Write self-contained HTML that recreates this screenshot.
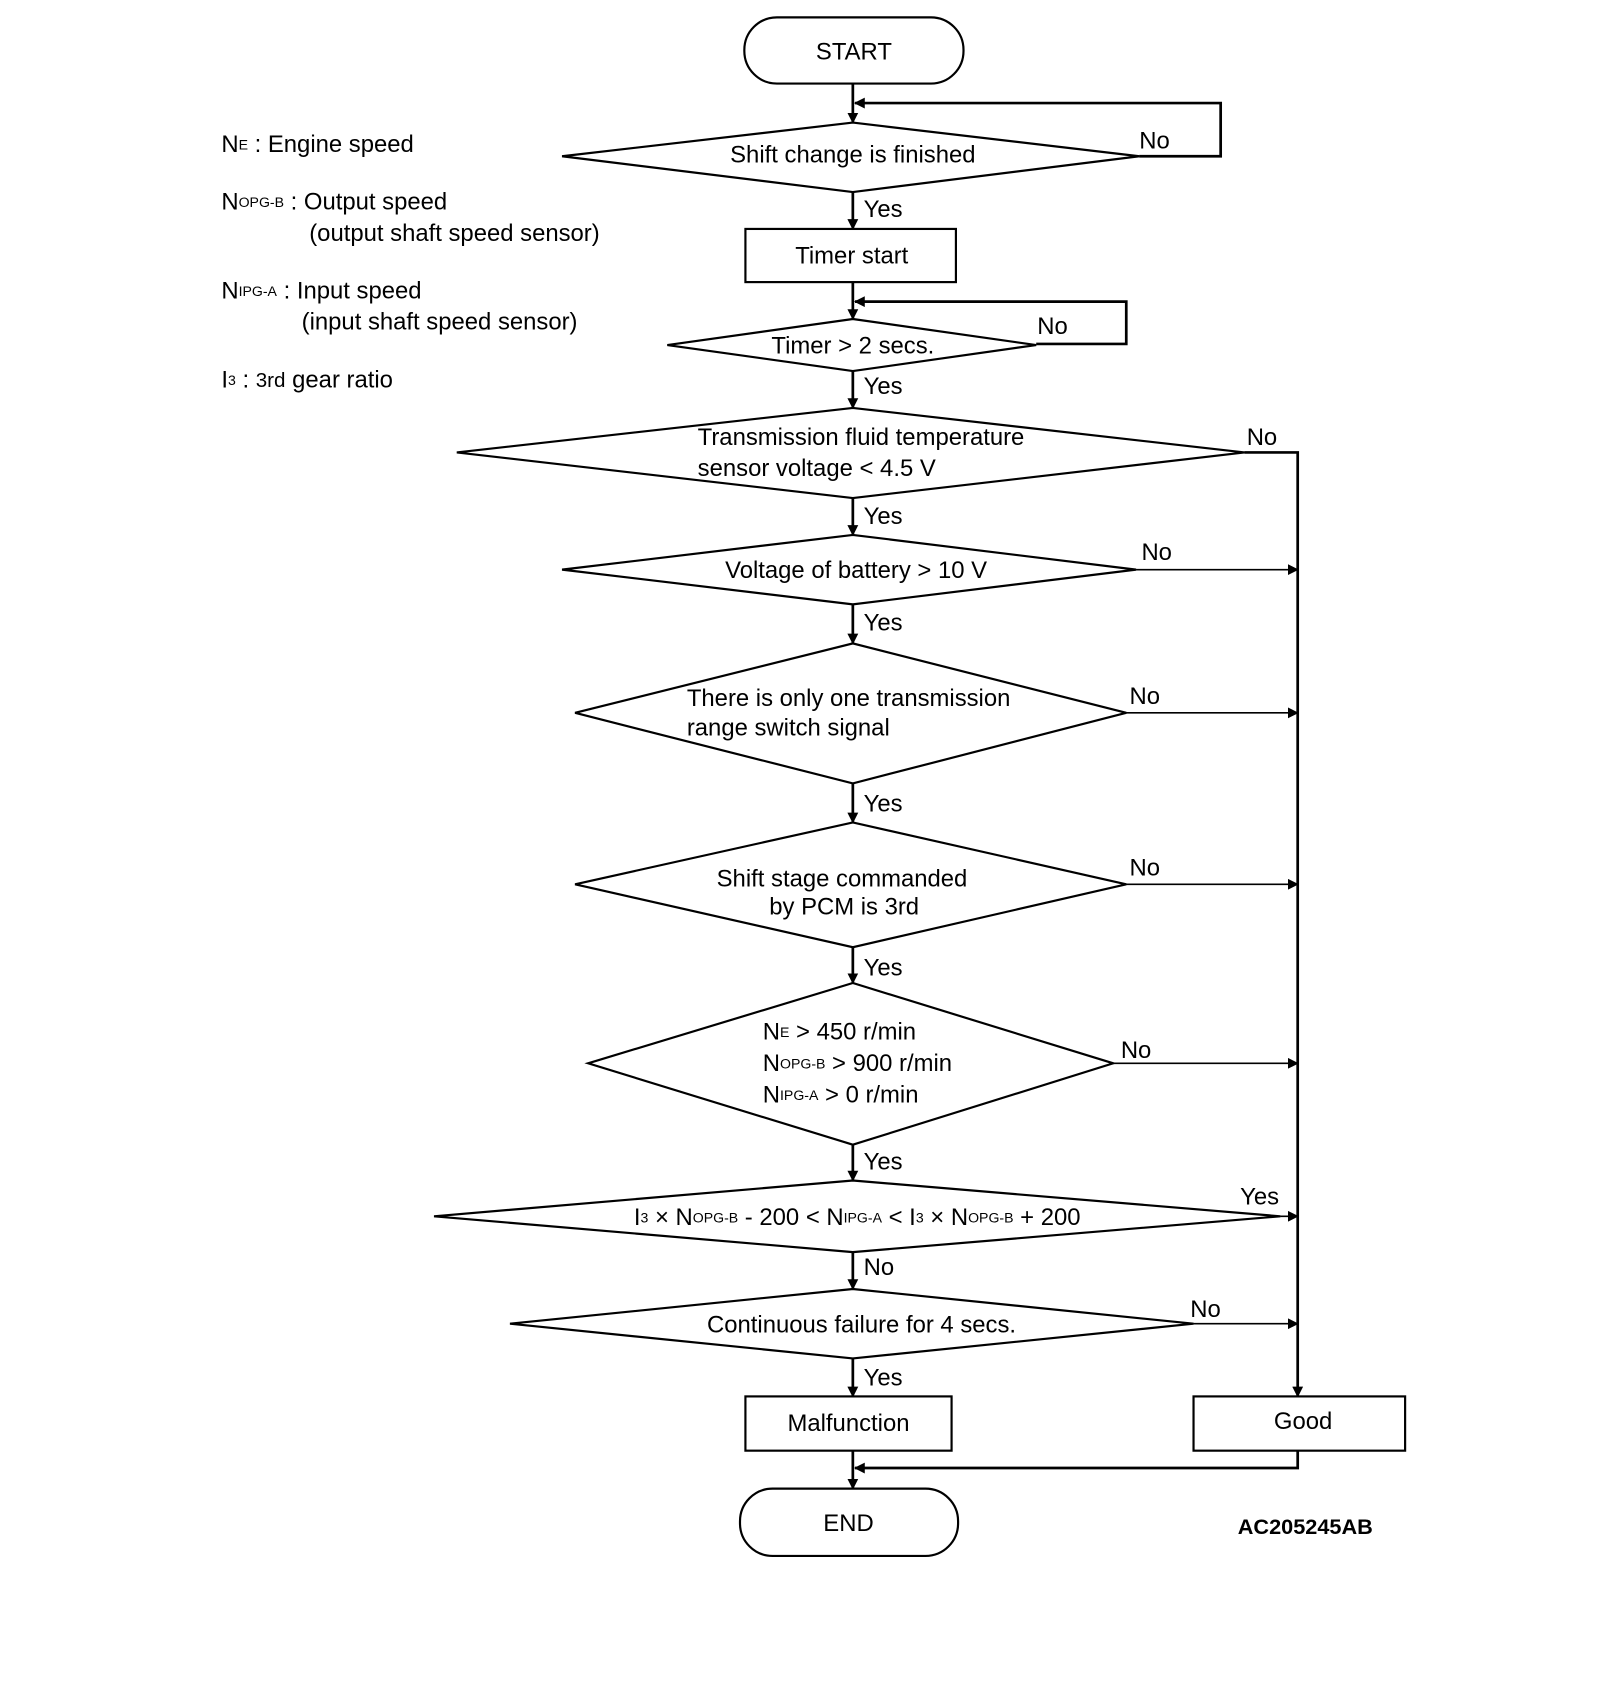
<!DOCTYPE html>
<html><head><meta charset="utf-8"><style>
html,body{margin:0;padding:0;background:#fff;}
svg{display:block}
text{font-family:"Liberation Sans",Arial,sans-serif;font-size:22px;fill:#000;dominant-baseline:central}
.s{font-size:13px}
</style></head><body>
<svg width="1600" height="1700" viewBox="0 0 1474.6 1566.8" xmlns="http://www.w3.org/2000/svg">
<defs><marker id="a" markerWidth="10" markerHeight="10" refX="9" refY="5" orient="auto" markerUnits="userSpaceOnUse"><path d="M0,0 L10,5 L0,10 z" fill="#000"/></marker></defs>
<g fill="none" stroke="#000" stroke-width="2">
<rect x="686" y="16" width="202" height="61" rx="30"/>
<rect x="682" y="1372" width="201" height="62" rx="30"/>
<rect x="687" y="211" width="194" height="49"/>
<rect x="687" y="1287" width="190" height="50"/>
<rect x="1100" y="1287" width="195" height="50"/>
<polygon points="518,144 786,113 1050,144 786,177"/>
<polygon points="615,318 786,294 955,318 786,342"/>
<polygon points="421,417 786,376 1147,417 786,459"/>
<polygon points="518,525 786,493 1047,525 786,557"/>
<polygon points="530,657 786,593 1038,657 786,722"/>
<polygon points="530,815 786,758 1038,815 786,873"/>
<polygon points="542,980 786,906 1026,980 786,1055"/>
<polygon points="400,1121 786,1088 1180,1121 786,1154"/>
<polygon points="470,1220 786,1188 1100,1220 786,1252"/>
</g>
<g fill="none" stroke="#000" stroke-width="2.5" marker-end="url(#a)">
<line x1="786" y1="77" x2="786" y2="113"/>
<polyline points="1050,144 1125,144 1125,95 788,95"/>
<line x1="786" y1="177" x2="786" y2="211"/>
<line x1="786" y1="260" x2="786" y2="294"/>
<polyline points="955,317 1038,317 1038,278 788,278"/>
<line x1="786" y1="342" x2="786" y2="376"/>
<line x1="786" y1="459" x2="786" y2="493"/>
<line x1="786" y1="557" x2="786" y2="593"/>
<line x1="786" y1="722" x2="786" y2="758"/>
<line x1="786" y1="873" x2="786" y2="906"/>
<line x1="786" y1="1055" x2="786" y2="1088"/>
<line x1="786" y1="1154" x2="786" y2="1188"/>
<line x1="786" y1="1252" x2="786" y2="1287"/>
<line x1="786" y1="1337" x2="786" y2="1372"/>
<polyline points="1196,1337 1196,1353 788,1353"/>
<polyline points="1147,417 1196,417 1196,1287"/>
</g>
<g stroke="#000" stroke-width="1.5" marker-end="url(#a)">
<line x1="1047" y1="525" x2="1196" y2="525"/>
<line x1="1038" y1="657" x2="1196" y2="657"/>
<line x1="1038" y1="815" x2="1196" y2="815"/>
<line x1="1026" y1="980" x2="1196" y2="980"/>
<line x1="1180" y1="1121" x2="1196" y2="1121"/>
<line x1="1100" y1="1220" x2="1196" y2="1220"/>
</g>
<text x="787" y="48" text-anchor="middle">START</text>
<text x="782" y="1404" text-anchor="middle">END</text>
<text x="786" y="143" text-anchor="middle">Shift change is finished</text>
<text x="785" y="236" text-anchor="middle">Timer start</text>
<text x="786" y="319" text-anchor="middle">Timer &gt; 2 secs.</text>
<text x="643" y="403">Transmission fluid temperature</text>
<text x="643" y="432">sensor voltage &lt; 4.5 V</text>
<text x="789" y="526" text-anchor="middle">Voltage of battery &gt; 10 V</text>
<text x="633" y="644">There is only one transmission</text>
<text x="633" y="671">range switch signal</text>
<text x="776" y="810" text-anchor="middle">Shift stage commanded</text>
<text x="778" y="836" text-anchor="middle">by PCM is 3rd</text>
<text x="703" y="951">N<tspan class="s">E</tspan> &gt; 450 r/min</text>
<text x="703" y="980">N<tspan class="s">OPG-B</tspan> &gt; 900 r/min</text>
<text x="703" y="1009">N<tspan class="s">IPG-A</tspan> &gt; 0 r/min</text>
<text x="790" y="1122" text-anchor="middle">I<tspan class="s">3</tspan> × N<tspan class="s">OPG-B</tspan> - 200 &lt; N<tspan class="s">IPG-A</tspan> &lt; I<tspan class="s">3</tspan> × N<tspan class="s">OPG-B</tspan> + 200</text>
<text x="794" y="1221" text-anchor="middle">Continuous failure for 4 secs.</text>
<text x="782" y="1312" text-anchor="middle">Malfunction</text>
<text x="1201" y="1310" text-anchor="middle">Good</text>
<text x="1203" y="1407" text-anchor="middle" font-weight="bold" style="font-size:20px">AC205245AB</text>
<text x="1050" y="130">No</text>
<text x="956" y="301">No</text>
<text x="1149" y="403">No</text>
<text x="1052" y="509">No</text>
<text x="1041" y="642">No</text>
<text x="1041" y="800">No</text>
<text x="1033" y="968">No</text>
<text x="1143" y="1103">Yes</text>
<text x="1097" y="1207">No</text>
<text x="796" y="1168">No</text>
<text x="796" y="193">Yes</text>
<text x="796" y="356">Yes</text>
<text x="796" y="476">Yes</text>
<text x="796" y="574">Yes</text>
<text x="796" y="741">Yes</text>
<text x="796" y="892">Yes</text>
<text x="796" y="1071">Yes</text>
<text x="796" y="1270">Yes</text>
<text x="204" y="133">N<tspan class="s">E</tspan> : Engine speed</text>
<text x="204" y="186">N<tspan class="s">OPG-B</tspan> : Output speed</text>
<text x="285" y="215">(output shaft speed sensor)</text>
<text x="204" y="268">N<tspan class="s">IPG-A</tspan> : Input speed</text>
<text x="278" y="297">(input shaft speed sensor)</text>
<text x="204" y="350">I<tspan class="s">3</tspan> : <tspan style="font-size:19px">3rd</tspan> gear ratio</text>
</svg>
</body></html>
